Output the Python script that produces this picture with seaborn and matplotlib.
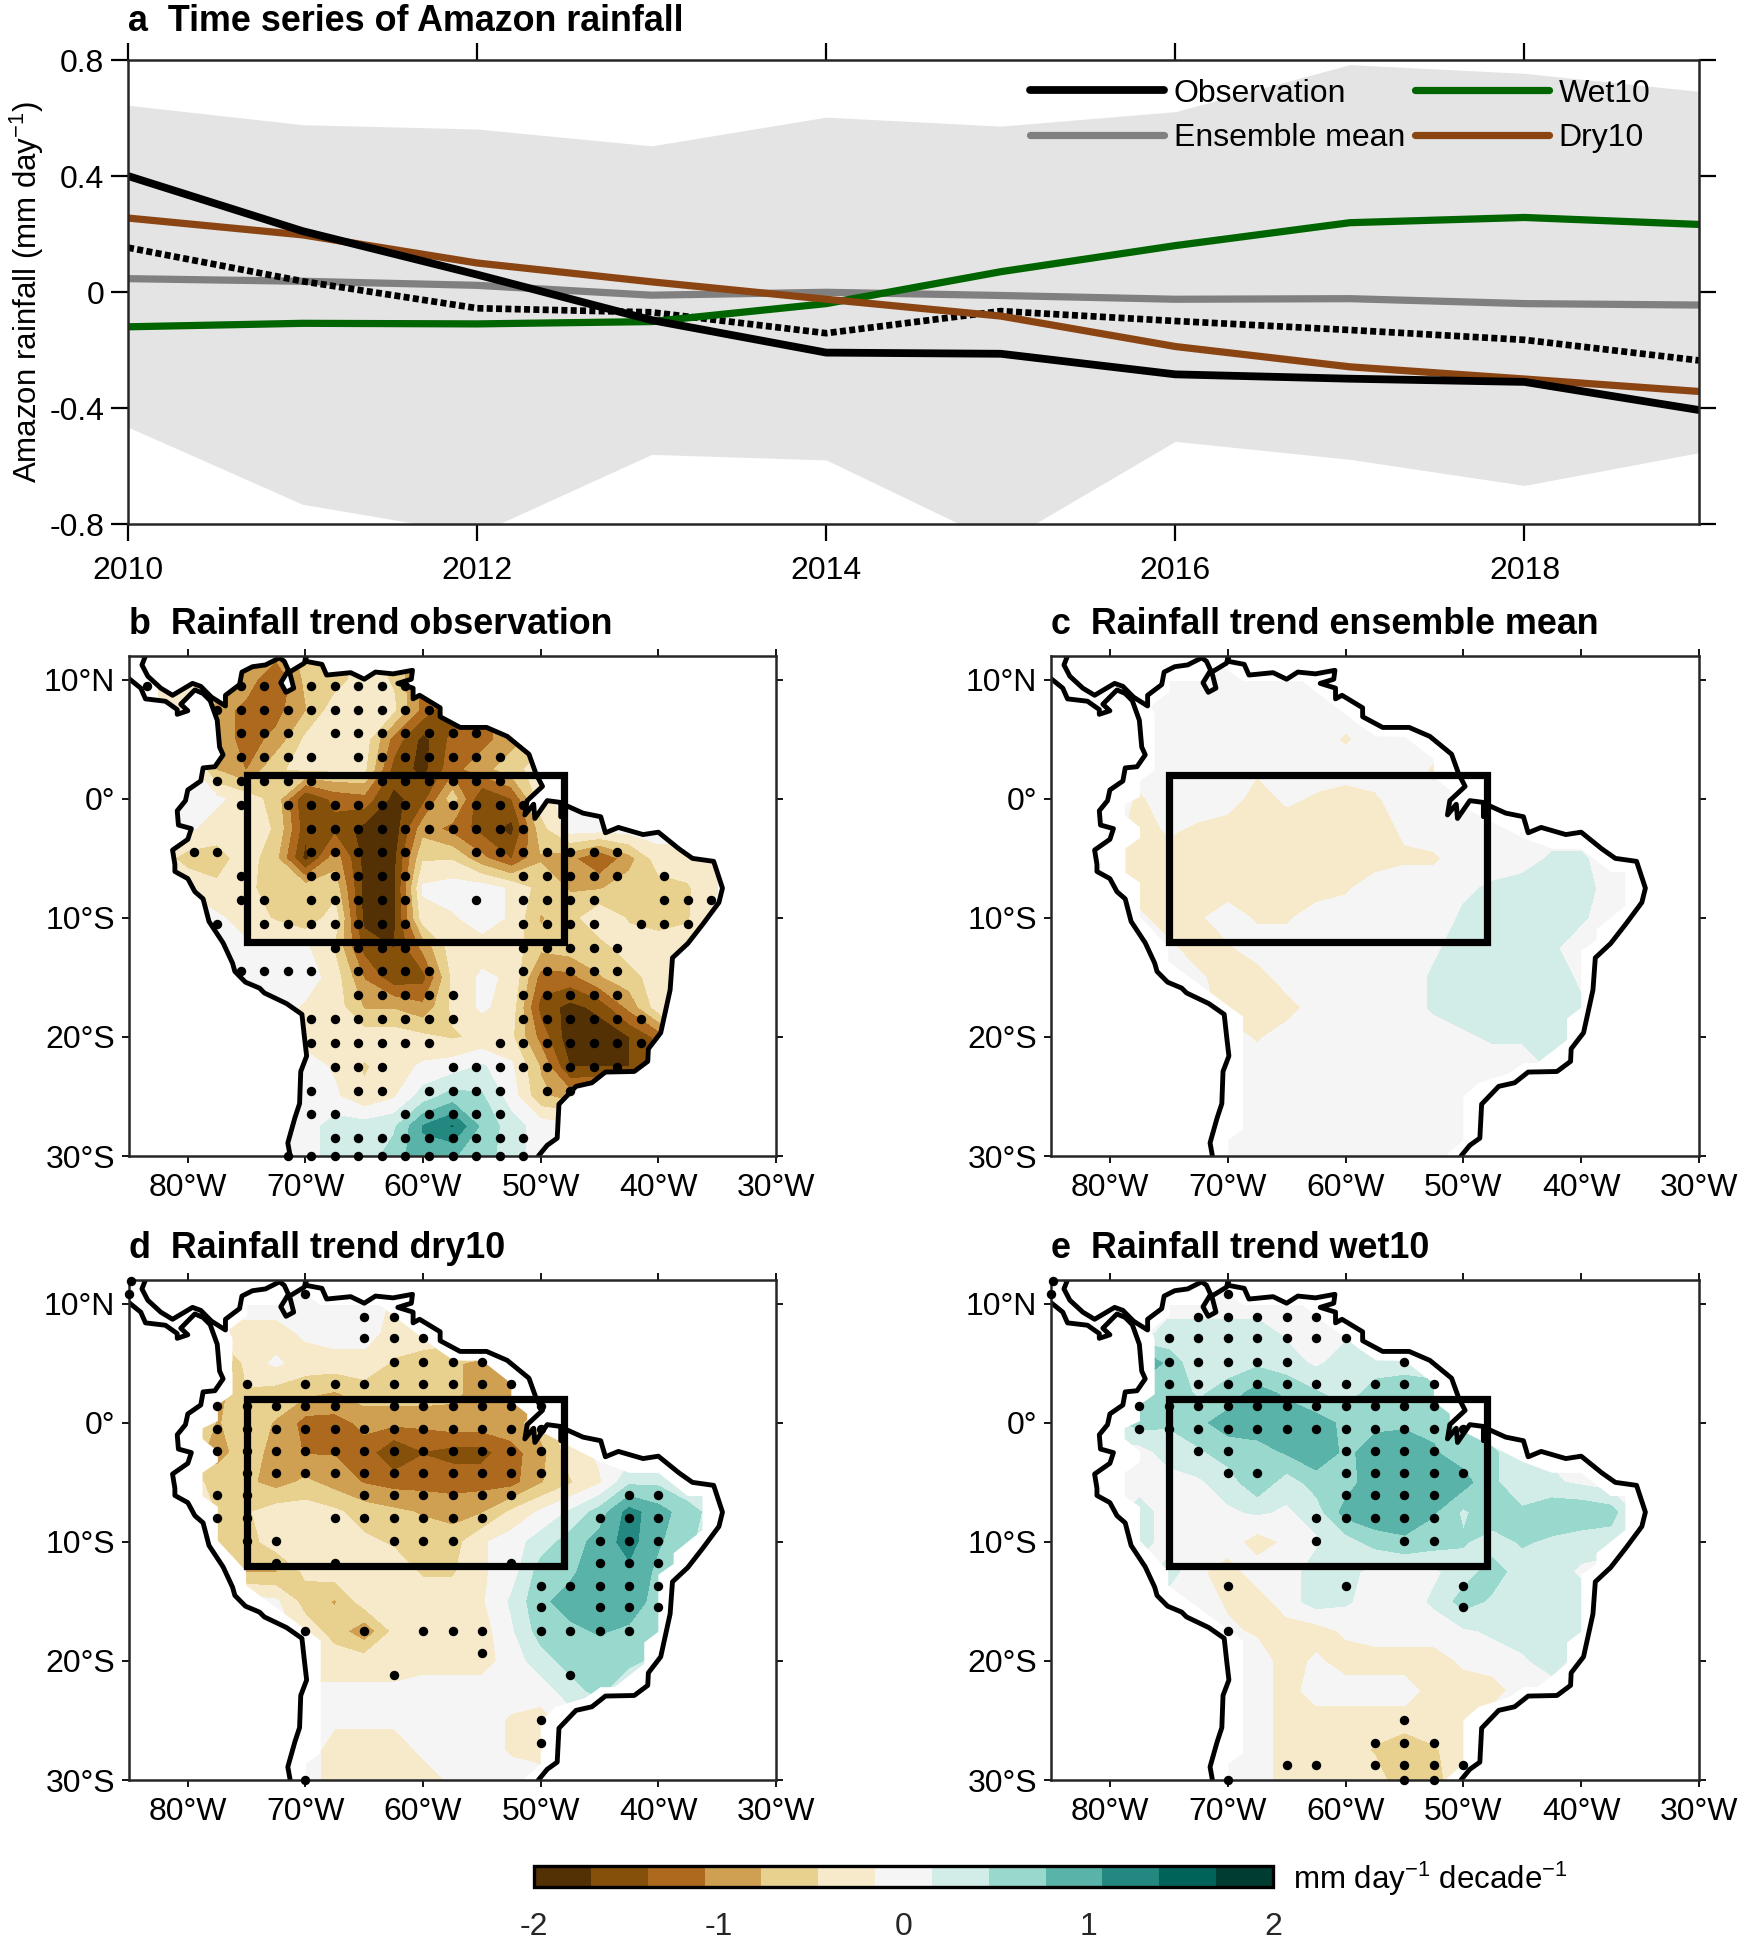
import numpy as np
import pandas as pd
import matplotlib
matplotlib.use("Agg")
import matplotlib.pyplot as plt
from matplotlib.path import Path
from matplotlib.patches import Rectangle
from matplotlib.colors import BoundaryNorm, ListedColormap
import seaborn as sns

# time series, panel a
years = [2010, 2011, 2012, 2013, 2014, 2015, 2016, 2017, 2018, 2019]
observation = [0.40, 0.21, 0.06, -0.097, -0.209, -0.213, -0.284, -0.299, -0.31, -0.407]
ensemble_mean = [0.046, 0.037, 0.023, -0.011, -0.001, -0.012, -0.025, -0.023, -0.04, -0.045]
wet10 = [-0.12, -0.108, -0.11, -0.102, -0.04, 0.07, 0.16, 0.239, 0.257, 0.233]
dry10 = [0.255, 0.197, 0.10, 0.035, -0.025, -0.083, -0.188, -0.258, -0.30, -0.343]
dotted_mean = [0.153, 0.037, -0.056, -0.07, -0.142, -0.066, -0.10, -0.131, -0.165, -0.236]
spread_upper = [0.644, 0.577, 0.562, 0.504, 0.603, 0.572, 0.622, 0.784, 0.754, 0.692]
spread_lower = [-0.466, -0.732, -0.834, -0.56, -0.579, -0.868, -0.515, -0.577, -0.667, -0.554]

# coarse trend fields in 0.1 mm/day/decade
grid_lon = [-82.5, -80, -77.5, -75, -72.5, -70, -67.5, -65, -62.5, -60, -57.5, -55, -52.5, -50, -47.5, -45, -42.5, -40, -37.5, -35]
grid_lat = [12.5, 10, 7.5, 5, 2.5, 0, -2.5, -5, -7.5, -10, -12.5, -15, -17.5, -20, -22.5, -25, -27.5, -30]

trend_obs = [
    [0, 0, 0, -6, -9, -7, -6, -3, -6, -12, -12, 0, 0, 0, 0, 0, 0, 0, 0, 0],
    [-3, -3, -6, -9, -14, -7, -6, -3, -5, -12, -12, -12, 0, 0, 0, 0, 0, 0, 0, 0],
    [-3, -3, -9, -12, -12, -8, -3, -3, -4, -12, -17, -14, -6, -6, 0, 0, 0, 0, 0, 0],
    [0, 0, -9, -12, -10, -4, -2, -3, -12, -18, -13, -12, -9, -6, -6, 0, 0, 0, 0, 0],
    [0, 0, -8, -11, -5, -4, -4, -4, -15, -18, -12, -9, -6, -3, -3, 0, 0, 0, 0, 0],
    [0, 0, -1, -3, -6, -17, -13, -12, -18, -15, -6, -17, -14, -3, 0, 0, 0, 0, 0, 0],
    [0, -1, -3, -3, -5, -16, -15, -18, -19, -9, -12, -15, -18, -6, 0, 0, 0, 0, 0, 0],
    [-3, -6, -6, -3, -7, -18, -9, -18, -18, -5, -5, -10, -14, -8, -10, -14, -9, -3, -3, -1],
    [0, -2, -4, -4, -6, -6, -6, -18, -18, -1, 0, 0, -2, -6, -8, -8, -6, -6, -5, -2],
    [0, 0, -1, -3, -5, -7, -3, -18, -18, -3, -2, 0, -2, -8, -6, -2, -5, -6, -5, 0],
    [0, 0, 0, -1, -1, -1, -5, -15, -17, -10, -3, -3, -3, -7, -6, -6, -3, -3, -3, -3],
    [0, 0, 0, 0, 0, 0, -3, -11, -16, -15, -4, -1, -2, -12, -12, -8, -6, -3, -3, -3],
    [0, 0, 0, 0, 0, -2, -3, -8, -8, -10, -4, -1, -3, -15, -18, -16, -10, -3, -3, -3],
    [0, 0, 0, 0, 0, -3, -3, -3, -3, -4, -5, -4, -4, -12, -19, -19, -17, -13, -3, -3],
    [0, 0, 0, 0, 0, 0, -2, -5, -3, -1, 0, 2, -1, -8, -17, -17, -17, -13, 0, 0],
    [0, 0, 0, 0, 0, 0, -1, -4, -2, 3, 6, 5, 0, -7, -9, -8, 0, 0, 0, 0],
    [0, 0, 0, 0, 0, 0, 3, 3, 4, 11, 14, 7, 3, 0, 0, 0, 0, 0, 0, 0],
    [0, 0, 0, 0, 0, 0, 3, 3, 6, 10, 8, 6, 3, 0, 0, 0, 0, 0, 0, 0],
]
trend_ens = [
    [0] * 20,
    [0] * 20,
    [0] * 20,
    [0, 0, 0, 0, 0, 0, 0, 0, 0, -2, 0, 0, 0, 0, 0, 0, 0, 0, 0, 0],
    [0, 0, 0, 0, 0, 0, -1, 0, 0, 0, 0, 0, -2, 0, 0, 0, 0, 0, 0, 0],
    [0, 0, -2, 0, 0, 0, -3, -1, -2, -3, -2, 0, -1, 0, 0, 0, 0, 0, 0, 0],
    [0, 0, -3, -1, -2, -3, -3, -3, -3, -3, -3, -1, 0, 0, 0, 0, 0, 0, 0, 0],
    [0, 0, -3, -3, -3, -3, -3, -3, -3, -3, -3, -2, -2, 0, 0, 0, 2, 2, 0, 0],
    [0, 0, -3, -3, -3, -3, -3, -3, -3, -2, 0, 0, 0, 1, 2, 3, 3, 3, 0, 0],
    [0, 0, -1, -3, -2, 0, -2, -2, 0, 0, 0, 0, 0, 2, 3, 3, 3, 2, 0, 0],
    [0, 0, 0, -1, -3, -2, 0, 0, 0, 0, 0, 0, 1, 3, 3, 3, 2, 0, 0, 0],
    [0, 0, 0, 0, -1, -3, -3, 0, 0, 0, 0, 0, 2, 3, 3, 3, 3, 1, 0, 0],
    [0, 0, 0, 0, 0, -3, -3, -3, 0, 0, 0, 0, 2, 3, 3, 3, 3, 2, 0, 0],
    [0, 0, 0, 0, 0, 0, -2, 0, 0, 0, 0, 0, 0, 1, 2, 2, 3, 1, 0, 0],
    [0, 0, 0, 0, 0, 0, 0, 0, 0, 0, 0, 0, 0, 0, 0, 0, 2, 0, 0, 0],
    [0] * 20,
    [0] * 20,
    [0] * 20,
]
trend_dry = [
    [0] * 20,
    [0, 0, 0, 0, 0, 0, 0, 0, -2, -2, 0, 0, 0, 0, 0, 0, 0, 0, 0, 0],
    [0, 0, -3, -3, -3, -1, 0, 0, -3, -3, -3, 0, 0, 0, 0, 0, 0, 0, 0, 0],
    [0, 0, -14, -3, -1, -3, -3, -3, -5, -6, -7, -9, -6, -6, 0, 0, 0, 0, 0, 0],
    [0, 0, -9, -5, -6, -7, -8, -6, -6, -6, -7, -9, -10, -10, 0, 0, 0, 0, 0, 0],
    [0, -3, -8, -6, -8, -12, -12, -10, -10, -10, -9, -9, -9, -6, -3, 0, 0, 0, 0, 0],
    [0, -6, -9, -6, -9, -11, -11, -12, -17, -14, -15, -15, -12, -9, -3, -1, 0, 0, 0, 0],
    [0, -3, -6, -7, -9, -7, -9, -11, -12, -12, -12, -12, -12, -8, -5, -2, 4, 4, 2, 2],
    [0, 0, -5, -5, -3, -3, -4, -6, -7, -8, -9, -8, -4, -1, 2, 6, 12, 9, 6, 3],
    [0, 0, -6, -6, -3, -3, -3, -4, -5, -6, -6, -2, 0, 3, 6, 9, 12, 8, 6, 0],
    [0, 0, 0, -8, -8, -4, -3, -3, -3, -5, -5, -2, 0, 6, 7, 10, 10, 7, 3, 0],
    [0, 0, 0, 0, -1, -6, -8, -3, -3, -3, -3, -2, 2, 7, 9, 10, 10, 6, 0, 0],
    [0, 0, 0, 0, 0, -3, -6, -10, -4, -3, -3, -3, 1, 6, 7, 8, 7, 5, 0, 0],
    [0, 0, 0, 0, 0, -3, -3, -3, -3, -3, -3, -3, 0, 3, 6, 6, 6, 3, 0, 0],
    [0, 0, 0, 0, 0, -1, -1, -1, -1, 0, 0, 0, 0, 0, 3, 6, 0, 0, 0, 0],
    [0, 0, 0, 0, 0, 0, -1, -1, -1, 0, 0, 0, -2, -3, 0, 0, 0, 0, 0, 0],
    [0, 0, 0, 0, 0, 0, -3, -3, -3, -1, 0, 0, -2, -3, 0, 0, 0, 0, 0, 0],
    [0, 0, 0, 0, 0, 0, -3, -3, -3, -3, -1, 0, 0, 0, 0, 0, 0, 0, 0, 0],
]
trend_wet = [
    [0] * 20,
    [0] * 20,
    [0, 0, 0, 3, 3, 3, 3, 1, 0, 1, 0, 0, 0, 0, 0, 0, 0, 0, 0, 0],
    [0, 0, 14, 6, 3, 3, 4, 3, 1, 3, 3, 3, 3, 0, 0, 0, 0, 0, 0, 0],
    [0, 0, 3, 7, 4, 6, 9, 7, 5, 3, 6, 7, 6, 1, 0, 0, 0, 0, 0, 0],
    [0, 3, 6, 5, 7, 9, 10, 10, 9, 7, 7, 7, 7, 6, 3, 0, 0, 0, 0, 0],
    [0, 1, 0, 3, 4, 6, 6, 8, 10, 7, 9, 10, 8, 6, 5, 3, 1, 0, 0, 0],
    [0, 0, 0, 0, 1, 3, 7, 3, 6, 6, 10, 10, 10, 9, 5, 3, 2, 1, 0, 0],
    [0, 0, 3, 0, 0, 1, 2, 1, 3, 9, 10, 10, 8, 4, 7, 5, 7, 7, 6, 0],
    [0, 0, 3, 0, 0, 0, -3, -1, 1, 3, 6, 7, 6, 5, 3, 5, 4, 3, 3, 0],
    [0, 0, 0, 3, -1, -3, 0, 0, 3, 3, 0, 1, 1, 3, 6, 3, 3, 1, 0, 0],
    [0, 0, 0, 0, 0, -2, -3, 0, 3, 2, 0, 0, 2, 6, 4, 3, 3, 3, 0, 0],
    [0, 0, 0, 0, 0, -1, -2, -3, -3, -1, 0, 0, 0, 1, 2, 3, 3, 3, 0, 0],
    [0, 0, 0, 0, 0, 0, 0, -3, -1, -3, -3, -3, -3, -1, 0, 1, 3, 0, 0, 0],
    [0, 0, 0, 0, 0, 0, 0, -3, 0, 0, 0, 0, -3, -3, -3, 0, 0, 0, 0, 0],
    [0, 0, 0, 0, 0, 0, 0, -3, -3, -3, -3, -3, -3, -3, 0, 0, 0, 0, 0, 0],
    [0, 0, 0, 0, 0, 0, 0, -3, -3, -3, -5, -7, -5, -3, 0, 0, 0, 0, 0, 0],
    [0, 0, 0, 0, 0, 0, 0, -3, -3, -3, -3, -7, -7, 0, 0, 0, 0, 0, 0, 0],
]

# significance dots, one list of longitudes per latitude
dots_lat_obs = [9.5, 7.5, 5.5, 3.5, 1.5, -0.5, -2.5, -4.5, -6.5, -8.5, -10.5, -12.5, -14.5, -16.5, -18.5, -20.5, -22.5, -24.5, -26.5, -28.5, -30]
dots_lon_obs = [
    [-83.5, -75.5, -73.5, -69.5, -67.5, -65.5, -63.5, -61.5],
    [-77.5, -75.5, -73.5, -71.5, -69.5, -67.5, -65.5, -63.5, -61.5, -59.5],
    [-75.5, -73.5, -71.5, -67.5, -65.5, -63.5, -61.5, -59.5, -57.5, -55.5],
    [-75.5, -73.5, -71.5, -69.5, -65.5, -63.5, -61.5, -59.5, -57.5, -55.5, -53.5],
    [-77.5, -75.5, -73.5, -71.5, -69.5, -63.5, -61.5, -59.5, -57.5, -55.5, -53.5],
    [-75.5, -71.5, -69.5, -67.5, -65.5, -63.5, -61.5, -59.5, -57.5, -55.5, -53.5, -51.5],
    [-69.5, -67.5, -65.5, -63.5, -61.5, -59.5, -57.5, -55.5, -53.5, -51.5],
    [-79.5, -77.5, -69.5, -67.5, -65.5, -63.5, -61.5, -55.5, -53.5, -51.5, -49.5, -47.5, -45.5, -43.5],
    [-75.5, -69.5, -67.5, -65.5, -63.5, -61.5, -51.5, -49.5, -47.5, -45.5, -43.5, -39.5],
    [-75.5, -73.5, -69.5, -67.5, -65.5, -63.5, -61.5, -55.5, -51.5, -49.5, -47.5, -45.5, -39.5, -37.5, -35.5],
    [-77.5, -73.5, -71.5, -69.5, -67.5, -65.5, -63.5, -61.5, -51.5, -49.5, -47.5, -45.5, -41.5, -39.5, -37.5],
    [-67.5, -65.5, -63.5, -61.5, -51.5, -49.5, -47.5, -45.5, -43.5],
    [-75.5, -73.5, -71.5, -69.5, -65.5, -63.5, -61.5, -59.5, -51.5, -49.5, -47.5, -45.5, -43.5],
    [-65.5, -63.5, -61.5, -59.5, -57.5, -51.5, -49.5, -47.5, -45.5, -43.5],
    [-69.5, -67.5, -65.5, -63.5, -61.5, -59.5, -57.5, -51.5, -49.5, -47.5, -45.5, -43.5, -41.5],
    [-69.5, -67.5, -65.5, -63.5, -61.5, -59.5, -53.5, -51.5, -49.5, -47.5, -45.5, -43.5, -41.5],
    [-67.5, -65.5, -63.5, -57.5, -55.5, -53.5, -51.5, -49.5, -47.5, -45.5, -43.5],
    [-69.5, -65.5, -63.5, -59.5, -57.5, -55.5, -53.5, -49.5, -47.5],
    [-69.5, -67.5, -61.5, -59.5, -57.5, -55.5, -53.5],
    [-67.5, -65.5, -63.5, -61.5, -59.5, -57.5, -55.5, -53.5, -51.5],
    [-71.5, -69.5, -67.5, -65.5, -63.5, -61.5, -59.5, -57.5, -55.5, -53.5, -51.5],
]
dots_lat_dry = [11.9, 10.8, 8.9, 7.1, 5.1, 3.25, 1.4, -0.5, -2.4, -4.25, -6.1, -8, -9.9, -11.8, -13.7, -15.5, -17.5, -19.3, -21.2, -25, -26.9, -30]
dots_lon_dry = [
    [-84.8],
    [-85, -70],
    [-65, -62.5],
    [-65, -62.5, -60],
    [-62.5, -60, -57.5, -55],
    [-75, -70, -67.5, -65, -62.5, -60, -57.5, -55, -52.5],
    [-77.5, -75, -72.5, -70, -67.5, -62.5, -60, -57.5, -55, -52.5, -50],
    [-77.5, -75, -72.5, -70, -67.5, -65, -62.5, -60, -57.5, -55, -52.5, -50],
    [-77.5, -75, -72.5, -70, -67.5, -65, -62.5, -60, -57.5, -55, -52.5, -50],
    [-75, -72.5, -70, -67.5, -65, -62.5, -60, -57.5, -55, -52.5, -50],
    [-77.5, -75, -65, -62.5, -60, -57.5, -55, -52.5, -42.5, -40],
    [-77.5, -75, -67.5, -65, -62.5, -60, -57.5, -55, -45, -42.5, -40],
    [-75, -72.5, -62.5, -60, -57.5, -45, -42.5, -40],
    [-72.5, -67.5, -52.5, -45, -42.5, -40],
    [-50, -47.5, -45, -42.5, -40],
    [-50, -45, -42.5, -40],
    [-70, -65, -60, -57.5, -55, -50, -47.5, -45, -42.5],
    [-55],
    [-62.5, -47.5],
    [-50],
    [-50],
    [-70],
]
dots_lat_wet = [11.9, 10.8, 8.9, 7.1, 5.1, 3.25, 1.4, -0.5, -2.4, -4.25, -6.1, -8, -9.9, -13.7, -15.5, -17.5, -25, -26.9, -28.7, -30]
dots_lon_wet = [
    [-84.8],
    [-85, -70],
    [-72.5, -70, -67.5, -65, -62.5],
    [-75, -72.5, -70, -67.5, -65, -62.5, -60],
    [-75, -72.5, -70, -67.5, -65, -55],
    [-75, -72.5, -70, -67.5, -65, -62.5, -60, -57.5, -55, -52.5],
    [-77.5, -75, -72.5, -70, -67.5, -65, -62.5, -60, -57.5, -55, -52.5],
    [-77.5, -75, -72.5, -70, -67.5, -65, -62.5, -60, -57.5, -55, -52.5, -50],
    [-72.5, -70, -60, -57.5, -55, -52.5],
    [-70, -67.5, -60, -57.5, -55, -52.5, -50],
    [-60, -57.5, -55, -52.5],
    [-62.5, -60, -57.5, -55, -52.5],
    [-62.5, -55, -52.5],
    [-70, -60, -50],
    [-50],
    [-70],
    [-55],
    [-57.5, -55, -52.5],
    [-65, -62.5, -57.5, -55, -52.5, -50],
    [-70, -55, -52.5],
]

# coastline, Pacific side from the south, then Caribbean and Atlantic
coast_lon = [-71.3, -71.5, -70.9, -70.5, -70.4, -69.9, -70.1, -70.3, -71.6, -73.5, -73.9, -75.1, -76, -76.2, -77, -78.2, -78.7, -79.4, -80, -81.1, -81.1, -81.3, -80, -79.7, -80.8, -80.9, -80.2, -80, -78.9, -78.7, -77.7, -77, -77.3, -77.5, -78.1, -78.7, -79.4, -80.6, -80, -80.9, -80.9, -81.9, -83.6, -84, -85,
             -87, -87, -83.6, -83.9, -83.4, -82.3, -81.3, -79.6, -78.9, -78, -76.8, -76.8, -75.6, -75.4, -74.5, -73.4, -72.2, -71.8, -71.45, -72.1, -71.65, -71, -71.35, -70.1, -69.95, -69.95, -68.6, -68.2, -66.15, -65, -64.05, -62.55, -60.9, -61, -62.15, -60.85, -60.85, -60.3, -58.55, -58.55, -56.85, -54.6, -52.85, -51, -50.4, -49.85, -51.15, -51.35, -50.6, -50.5, -49.45, -48.3, -48.3, -47.75, -46.4, -44.9, -44.5, -43.4, -41.3, -40, -38.25, -37.1, -35.3, -34.55, -34.85, -36.2, -37.5, -38.8, -39, -39.4, -39.8, -40.85, -40.9, -42.05, -44.5, -45.65, -47, -48.45, -48.6, -49.45, -50.2]
coast_lat = [-30, -28.9, -26.8, -25.6, -22.9, -21.6, -19.9, -18.1, -17.2, -16.3, -15.9, -15.4, -14.5, -13.8, -12.1, -10.3, -8.4, -7.8, -6.7, -6.1, -5.5, -4.3, -3.4, -2.5, -2.2, -1, -0.15, 0.75, 1.5, 2.6, 2.7, 3.7, 4.35, 6.6, 8.25, 8.85, 9.15, 7.95, 7.4, 7.1, 7.5, 8.2, 8.4, 9.3, 10.1,
             10.1, 13, 12, 11.25, 10.3, 9.3, 8.7, 9.7, 9.45, 8.55, 7.8, 8.7, 9.6, 10.65, 11.1, 11.25, 11.85, 11.55, 10.8, 9.75, 8.95, 9.3, 10.65, 11.4, 12, 11.55, 11.3, 10.4, 10.6, 10.05, 10.65, 10.5, 10.8, 10.05, 9.7, 9.3, 8.4, 8.7, 7.65, 6.9, 6, 6, 5.25, 3.75, 2.1, 1.05, -0.15, -1.35, -0.45, -1.65, -0.15, -0.3, -1.5, -0.6, -1.2, -1.5, -2.85, -2.4, -3, -2.8, -4.2, -5, -5.25, -7.5, -8.7, -10.5, -12.15, -13.35, -16.05, -17.85, -19.65, -21, -22.05, -22.9, -22.95, -23.85, -24.15, -25.65, -28.5, -29.1, -30]

# data mask of the model panels
mask_lon = [-69.95, -69.95, -68.7, -68.7, -75.05, -75.05, -77.45, -77.45, -78.75, -78.75, -77.45, -77.45, -78.75, -78.75, -77.45, -77.45, -76.2, -76.2, -76.5, -74.95, -74.95, -72.4, -70.5, -68.7, -63.7, -58.75, -57.4, -54.95, -52.5, -52.5, -51.15, -51.15, -44.9, -42.45, -40, -37.5, -36.25, -36.25, -38.7, -38.7, -40, -40, -41.2, -41.2, -43.75, -44.9, -46.2, -48.7, -50, -50, -51.55]
mask_lat = [-30, -28.65, -27.75, -18.3, -13.65, -12.45, -9.9, -7.05, -6.15, -4.2, -3.3, -2.4, -1.35, -0.45, 0.15, 1.5, 2.4, 7.05, 7.8, 9, 9.9, 9.9, 11.1, 9.9, 9.9, 6.15, 5.25, 5.2, 3.3, 1.8, 0.75, -0.15, -3.3, -4.2, -4.2, -6.15, -6.15, -9, -10.95, -11.85, -12.75, -17.55, -18.45, -20.25, -22.2, -22.2, -23.1, -23.85, -25, -28.65, -30]

bar_colors = ["#543005", "#84500a", "#ad6a1e", "#cfa052", "#e8d18f", "#f7eacb", "#f5f5f5",
              "#d2ece7", "#99d8cd", "#5ab3a9", "#238880", "#006359", "#003c30"]
bar_levels = np.linspace(-2, 2, 14)
box_lon = [-75, -48]
box_lat = [-12, 2]

sns.set_theme(style="ticks")
plt.rcParams["font.family"] = ["Liberation Sans", "DejaVu Sans"]
plt.rcParams["axes.unicode_minus"] = False
plt.rcParams["mathtext.fontset"] = "custom"
plt.rcParams["mathtext.rm"] = "Liberation Sans"
plt.rcParams["mathtext.default"] = "regular"
plt.rcParams["text.color"] = "black"
plt.rcParams["axes.labelcolor"] = "black"
plt.rcParams["axes.titlecolor"] = "black"

W, H = 1750, 1950
TICK_FS = 23
TITLE_FS = 25.8
fig = plt.figure(figsize=(W / 100, H / 100), dpi=100)


def px_axes(x0, y0, x1, y1):
    return fig.add_axes([x0 / W, 1 - y1 / H, (x1 - x0) / W, (y1 - y0) / H])


def ticks_all(ax, length, width, size):
    ax.tick_params(which="major", direction="out", length=length, width=width, labelsize=size,
                   top=True, right=True, color="black", labelcolor="black", pad=5)


# panel a
ax = px_axes(128, 60, 1699, 524)
ax.fill_between(years, spread_lower, spread_upper, color="#e4e4e4", linewidth=0)
long_a = pd.DataFrame({"year": years, "Observation": observation, "Ensemble mean": ensemble_mean,
                       "Wet10": wet10, "Dry10": dry10})
sns.lineplot(x=years, y=ensemble_mean, color="#808080", lw=5.2, ax=ax, label="Ensemble mean")
sns.lineplot(x=years, y=dotted_mean, color="black", lw=4.8, ax=ax, linestyle=(0, (0.9, 0.5)))
sns.lineplot(data=long_a, x="year", y="Wet10", color="#006400", lw=5.2, ax=ax, label="Wet10")
sns.lineplot(data=long_a, x="year", y="Dry10", color="#8b4513", lw=5.2, ax=ax, label="Dry10")
sns.lineplot(data=long_a, x="year", y="Observation", color="black", lw=5.6, ax=ax, label="Observation")
ax.set_xlim(2010, 2019)
ax.set_ylim(-0.8, 0.8)
ax.set_xticks([2010, 2012, 2014, 2016, 2018])
ax.set_yticks([-0.8, -0.4, 0, 0.4, 0.8])
ax.set_yticklabels(["-0.8", "-0.4", "0", "0.4", "0.8"])
ticks_all(ax, 12, 1.6, TICK_FS)
ax.tick_params(axis="x", pad=11)
for s in ax.spines.values():
    s.set_linewidth(1.8)
    s.set_visible(True)
ax.set_xlabel("")
ax.set_ylabel("Amazon rainfall (mm day$^{-1}$)", fontsize=22.5)
ax.yaxis.set_label_coords(-0.052, 0.5)
ax.set_title("a  Time series of Amazon rainfall", loc="left", fontsize=TITLE_FS, fontweight="bold", pad=21)
h, l = ax.get_legend_handles_labels()
order = [l.index("Observation"), l.index("Ensemble mean"), l.index("Wet10"), l.index("Dry10")]
ax.legend([h[i] for i in order], [l[i] for i in order], ncol=2, frameon=False, fontsize=TICK_FS,
          handlelength=4.2, handletextpad=0.3, columnspacing=0.3, labelspacing=0.45,
          loc="upper right", bbox_to_anchor=(0.969, 0.96), borderaxespad=0, borderpad=0)

# map panels
panels = [
    ("b  Rainfall trend observation", (129, 656, 776, 1156), trend_obs, dots_lat_obs, dots_lon_obs, True),
    ("c  Rainfall trend ensemble mean", (1051, 656, 1699, 1156), trend_ens, [], [], False),
    ("d  Rainfall trend dry10", (129, 1280, 776, 1780), trend_dry, dots_lat_dry, dots_lon_dry, False),
    ("e  Rainfall trend wet10", (1051, 1280, 1699, 1780), trend_wet, dots_lat_wet, dots_lon_wet, False),
]
coast_path = Path(np.column_stack([coast_lon + [-50.2, -71.3, -71.3], coast_lat + [-33, -33, -30]]))
mask_path = Path(np.column_stack([mask_lon + [-51.55, -69.95, -69.95], mask_lat + [-33, -33, -30]]))
for title, box, field, dlat, dlon, to_coast in panels:
    ax = px_axes(*box)
    cf = ax.contourf(grid_lon, grid_lat, np.array(field) / 10.0, levels=bar_levels, colors=bar_colors, extend="both")
    cf.set_clip_path(coast_path if to_coast else mask_path, ax.transData)
    sns.lineplot(x=coast_lon, y=coast_lat, sort=False, estimator=None, color="black", lw=3.5, ax=ax)
    if dlat:
        xs = [x for row in dlon for x in row]
        ys = [y for y, row in zip(dlat, dlon) for x in row]
        sns.scatterplot(x=xs, y=ys, s=46, color="black", linewidth=0, ax=ax, clip_on=False, zorder=5)
    ax.add_patch(Rectangle((box_lon[0], box_lat[0]), box_lon[1] - box_lon[0], box_lat[1] - box_lat[0],
                           fill=False, ec="black", lw=5.2, zorder=6, joinstyle="miter"))
    ax.set_xlim(-85, -30)
    ax.set_ylim(-30, 12)
    ax.set_xticks([-80, -70, -60, -50, -40, -30])
    ax.set_xticklabels(["80°W", "70°W", "60°W", "50°W", "40°W", "30°W"])
    ax.set_yticks([10, 0, -10, -20, -30])
    ax.set_yticklabels(["10°N", "0°", "10°S", "20°S", "30°S"])
    ticks_all(ax, 5, 1.3, TICK_FS)
    ax.tick_params(axis="x", pad=7.5)
    for s in ax.spines.values():
        s.set_linewidth(1.8)
        s.set_visible(True)
    ax.set_xlabel("")
    ax.set_ylabel("")
    ax.set_title(title, loc="left", fontsize=TITLE_FS, fontweight="bold", pad=16)

# colour bar
cax = px_axes(534, 1866, 1273, 1887)
sm = plt.cm.ScalarMappable(norm=BoundaryNorm(bar_levels, 13), cmap=ListedColormap(bar_colors))
cb = fig.colorbar(sm, cax=cax, orientation="horizontal", spacing="proportional")
cb.set_ticks([-2, -1, 0, 1, 2])
cb.set_ticklabels(["-2", "-1", "0", "1", "2"])
cb.ax.minorticks_off()
cb.ax.tick_params(direction="in", length=6, width=1.3, labelsize=TICK_FS, pad=18, color="black", bottom=True)
cb.outline.set_linewidth(2.4)
cb.outline.set_edgecolor("black")
fig.text(1293 / W, 1 - 1879 / H, "mm day$^{-1}$ decade$^{-1}$", fontsize=22.5, va="center", ha="left", color="black")

fig.savefig("out.png", dpi=100)
